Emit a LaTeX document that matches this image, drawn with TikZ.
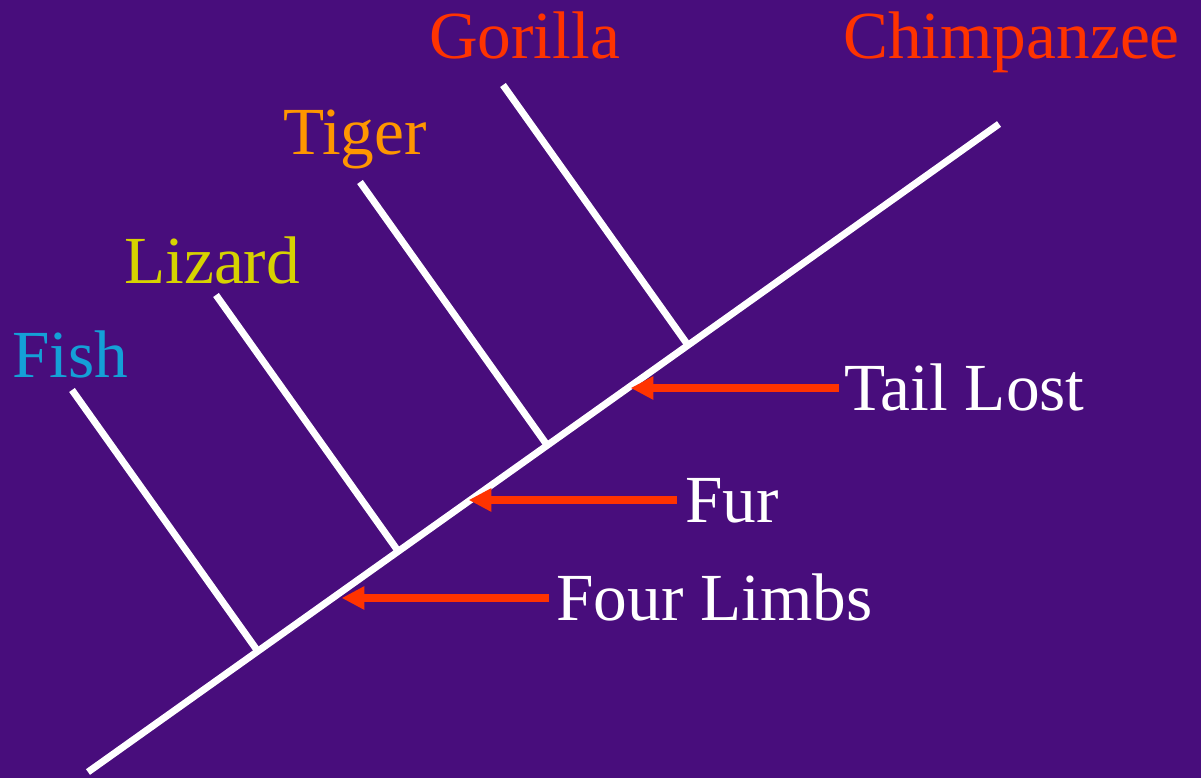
\documentclass[tikz,border=0pt]{standalone}
\usepackage{fontspec}
\setmainfont{Liberation Serif}
\usetikzlibrary{calc,arrows.meta}
\definecolor{bgpurple}{RGB}{72,13,124}
\definecolor{fishblue}{RGB}{20,160,215}
\definecolor{lizardyellow}{RGB}{215,210,0}
\definecolor{tigerorange}{RGB}{255,150,0}
\definecolor{apered}{RGB}{255,51,0}
\tikzset{
  branch/.style={draw=white, line width=5.2pt},
  marker/.style={draw=apered, line width=6.2pt,
    -{Triangle[length=17pt,width=16.5pt]}, shorten >=-1pt},
  taxon/.style={anchor=base west, inner sep=0pt,
    font=\fontsize{50.5}{60}\selectfont},
  trait/.style={taxon, text=white},
}
\begin{document}
\begin{tikzpicture}[x=0.75pt,y=-0.75pt]
  \fill[bgpurple] (0,0) rectangle (1201,778);
  \useasboundingbox (0,0) rectangle (1201,778);

  % main stem of the tree
  \coordinate (root) at (88,772);
  \coordinate (crown) at (999,124);

  % tips of the side branches
  \coordinate (fishtip) at (72,390);
  \coordinate (liztip) at (216,295);
  \coordinate (tigtip) at (360,182);
  \coordinate (gortip) at (503,85);

  % where each side branch meets the stem
  \coordinate (fishnode) at ($(root)!(fishtip)!(crown)$);
  \coordinate (liznode) at ($(root)!(liztip)!(crown)$);
  \coordinate (tignode) at ($(root)!(tigtip)!(crown)$);
  \coordinate (gornode) at ($(root)!(gortip)!(crown)$);

  \draw[branch] (root) -- (crown);
  \draw[branch] (fishtip) -- (fishnode);
  \draw[branch] (liztip) -- (liznode);
  \draw[branch] (tigtip) -- (tignode);
  \draw[branch] (gortip) -- (gornode);

  % taxon names
  \node[taxon, text=fishblue] (fish) at (12,377) {Fish};
  \node[taxon, text=lizardyellow] (lizard) at (124,283) {Lizard};
  \node[taxon, text=tigerorange] (tiger) at (283,154) {Tiger};
  \node[taxon, text=apered] (gorilla) at (429,58) {Gorilla};
  \node[taxon, text=apered] (chimp) at (843,58) {Chimpanzee};

  % shared characters
  \node[trait] (tail) at (844,410) {Tail Lost};
  \node[trait] (fur) at (685,522) {Fur};
  \node[trait] (limbs) at (556,620) {Four Limbs};

  % points on the stem marked by the characters
  \coordinate (tailpt) at (632,388);
  \coordinate (furpt) at (470,500);
  \coordinate (limbpt) at (343,598);

  \draw[marker] ([xshift=-4pt]tail.west |- tailpt) -- (tailpt);
  \draw[marker] ([xshift=-6pt]fur.west |- furpt) -- (furpt);
  \draw[marker] ([xshift=-5pt]limbs.west |- limbpt) -- (limbpt);
\end{tikzpicture}
\end{document}
